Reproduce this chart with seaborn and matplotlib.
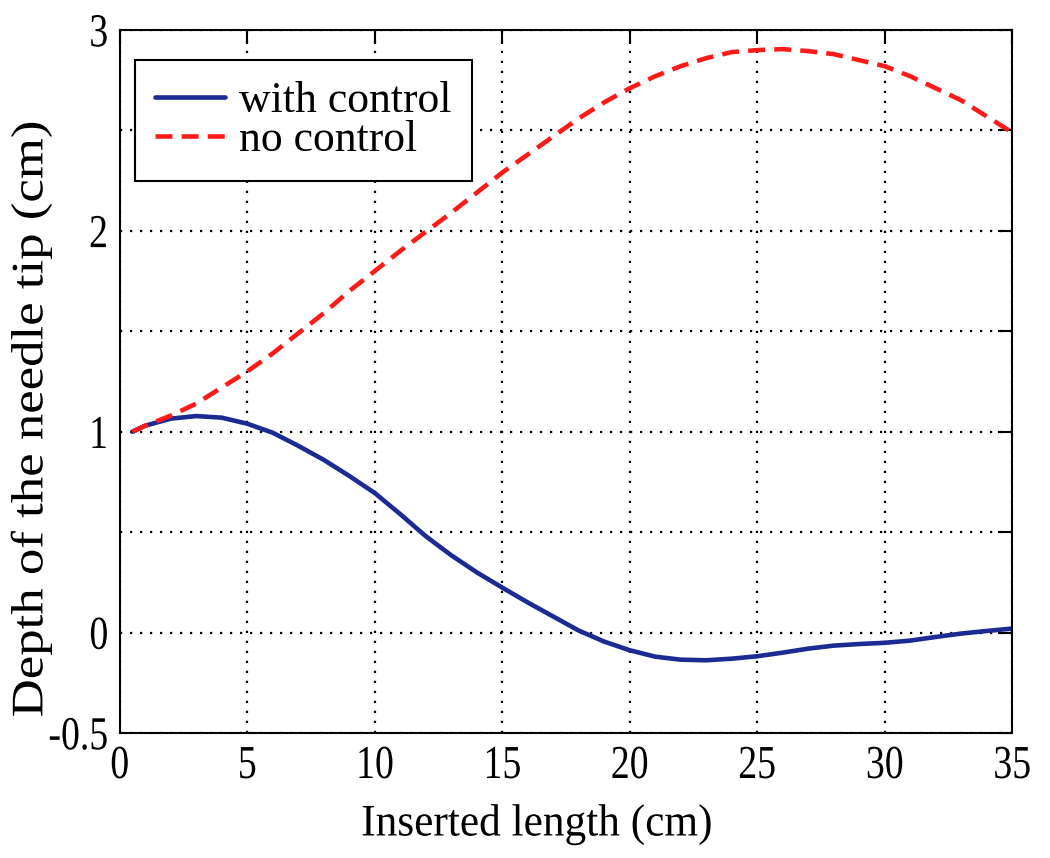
import numpy as np
import pandas as pd
import seaborn as sns
import matplotlib.pyplot as plt
from matplotlib.patheffects import AbstractPathEffect
from matplotlib.transforms import Affine2D

# values
length = [0.5, 1, 2, 3, 4, 5, 6, 7, 8, 9, 10, 11, 12, 13, 14, 15, 16, 17, 18,
          19, 20, 21, 22, 23, 24, 25, 26, 27, 28, 29, 30, 31, 32, 33, 34, 35]
with_control = [1.00, 1.03, 1.065, 1.078, 1.07, 1.04, 0.995, 0.93, 0.86, 0.78,
                0.695, 0.59, 0.48, 0.385, 0.30, 0.224, 0.15, 0.08, 0.01, -0.045,
                -0.088, -0.12, -0.135, -0.138, -0.13, -0.118, -0.10, -0.08,
                -0.065, -0.057, -0.051, -0.04, -0.022, -0.005, 0.008, 0.02]
no_control = [1.00, 1.03, 1.08, 1.14, 1.22, 1.30, 1.39, 1.49, 1.59, 1.70,
              1.80, 1.90, 1.995, 2.09, 2.19, 2.29, 2.38, 2.47, 2.56, 2.64,
              2.71, 2.77, 2.82, 2.86, 2.89, 2.90, 2.905, 2.895, 2.88, 2.85,
              2.82, 2.77, 2.71, 2.65, 2.57, 2.49]
xticks = [0, 5, 10, 15, 20, 25, 30, 35]
yticks = [-0.5, 0, 0.5, 1, 1.5, 2, 2.5, 3]
ylabels = ["-0.5", "0", "", "1", "", "2", "", "3"]

df = pd.DataFrame({"length": length, "with": with_control, "no": no_control})


class Stretch(AbstractPathEffect):
    # squeeze / widen the glyphs along the text direction
    def __init__(self, sx=1.0, anchor="center"):
        super().__init__()
        self.sx = sx
        self.anchor = anchor

    def draw_path(self, renderer, gc, tpath, affine, rgbFace=None):
        ext = tpath.get_extents()
        cx = ext.x1 if self.anchor == "right" else (ext.x0 + ext.x1) / 2
        t = Affine2D().translate(-cx, 0).scale(self.sx, 1).translate(cx, 0)
        renderer.draw_path(gc, tpath, t + affine, rgbFace)


sns.set_style("white")
plt.rcParams["font.family"] = "serif"
plt.rcParams["font.serif"] = ["Liberation Serif"]
plt.rcParams["text.color"] = "black"
plt.rcParams["axes.labelcolor"] = "black"

fig = plt.figure(figsize=(10.5, 8.58), dpi=100)
ax = fig.add_axes([0.114, 0.1457, 0.85, 0.8193])

sns.lineplot(x="length", y="with", data=df, ax=ax, color="#1c2a94",
             linewidth=3.3, label="with control")
sns.lineplot(x="length", y="no", data=df, ax=ax, color="#ff1a1a",
             linewidth=3.3, linestyle=(0, (3.7, 2.0)), label="no control")

ax.set_xlim(0, 35)
ax.set_ylim(-0.5, 3)
ax.set_xticks(xticks)
ax.set_yticks(yticks)
ax.set_yticklabels(ylabels)
ax.grid(True, color="black", linestyle=(0, (1, 3.5)), linewidth=1.6)
ax.tick_params(direction="in", length=10, width=1.5, top=True, right=True,
               labelsize=34, colors="black")
ax.tick_params(axis="x", pad=9)
ax.tick_params(axis="y", pad=8)
for s in ax.spines.values():
    s.set_visible(True)
    s.set_color("black")
    s.set_linewidth(1.5)

for lab in ax.get_xticklabels():
    lab.set_path_effects([Stretch(0.8)])
for lab in ax.get_yticklabels():
    lab.set_path_effects([Stretch(0.8, "right")])

ax.set_xlabel("Inserted length (cm)", fontsize=32.5, color="black")
ax.set_ylabel("Depth of the needle tip (cm)", fontsize=32.5, color="black")
ax.xaxis.set_label_coords(0.4675, -0.101)
ax.yaxis.set_label_coords(-0.076, 0.447)
ax.xaxis.label.set_path_effects([Stretch(0.96)])
ax.yaxis.label.set_path_effects([Stretch(1.17)])

leg = ax.legend(loc="upper left", bbox_to_anchor=(0.017, 0.957),
                borderaxespad=0, fontsize=31.5, frameon=True, fancybox=False,
                handlelength=1.6, handletextpad=0.32, labelspacing=-0.02,
                borderpad=0.47)
leg.get_frame().set_edgecolor("black")
leg.get_frame().set_linewidth(1.5)
leg.get_frame().set_alpha(1)
for t in leg.get_texts():
    t.set_color("black")

fig.savefig("out.png", dpi=100)
